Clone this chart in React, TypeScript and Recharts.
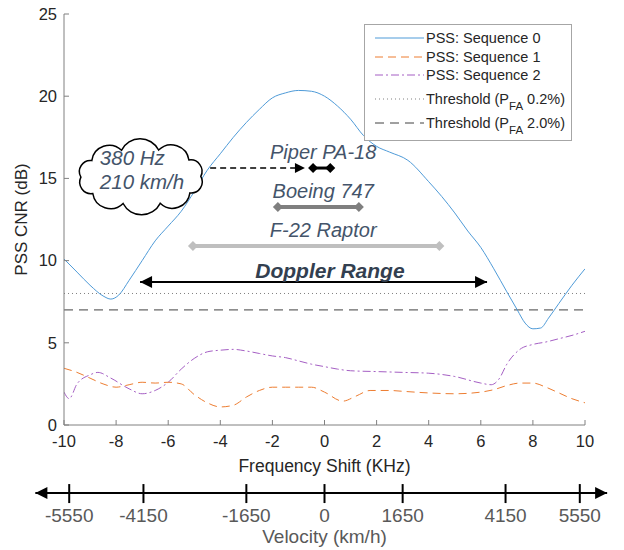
import React from 'react';
import { LineChart, Line, XAxis, YAxis, ReferenceLine, ReferenceDot } from 'recharts';

document.body.style.margin = '0';

// PSS CNR (dB) vs frequency shift (kHz)
const seq0Freq = [-10, -9.5, -9, -8.5, -8.2, -7.9, -7.5, -7, -6.5, -6, -5.5, -5, -4.5, -4, -3.5, -3, -2.5, -2, -1.5, -1, -0.5, 0, 0.5, 1, 1.5, 2, 2.5, 3.2, 4, 4.5, 5, 5.5, 6, 6.5, 7, 7.4, 7.7, 8, 8.3, 8.6, 9, 9.5, 10];
const seq0Cnr = [10.1, 9.3, 8.5, 7.85, 7.66, 7.9, 8.8, 10.0, 11.2, 12.1, 13.0, 14.2, 15.5, 16.5, 17.5, 18.4, 19.2, 19.9, 20.2, 20.35, 20.3, 20.0, 19.4, 18.6, 17.6, 16.95, 16.6, 16.1, 14.8, 13.9, 12.9, 11.8, 10.8, 9.5, 8.1, 7.0, 6.2, 5.85, 5.9, 6.5, 7.4, 8.5, 9.5];

const seq1Freq = [-10, -9.5, -9, -8.5, -8, -7.5, -7, -6.5, -6, -5.5, -5, -4.5, -4, -3.5, -3, -2.5, -2, -1.5, -1, -0.5, 0, 0.7, 1.2, 1.75, 2.5, 3, 4, 5, 6, 6.5, 7, 7.5, 8, 8.5, 9, 9.5, 10];
const seq1Cnr = [3.45, 3.2, 2.85, 2.5, 2.3, 2.45, 2.6, 2.55, 2.6, 2.5, 1.85, 1.35, 1.1, 1.2, 1.7, 2.1, 2.3, 2.3, 2.3, 2.3, 2.0, 1.45, 1.75, 2.1, 2.1, 2.05, 1.95, 1.9, 2.0, 2.15, 2.4, 2.55, 2.55, 2.3, 1.95, 1.6, 1.35];

const seq2Freq = [-10, -9.8, -9.5, -9, -8.7, -8.2, -7.5, -7, -6.5, -6, -5.5, -5, -4.5, -4, -3.5, -3, -2.5, -2, -1.5, -1, -0.5, 0, 0.5, 1, 2, 3, 4, 5, 6, 6.4, 6.7, 7, 7.5, 8, 8.5, 9, 9.5, 10];
const seq2Cnr = [2.0, 1.6, 2.5, 3.05, 3.2, 2.85, 2.2, 1.9, 2.1, 2.6, 3.4, 4.05, 4.45, 4.55, 4.6, 4.5, 4.35, 4.2, 4.1, 3.9, 3.7, 3.55, 3.4, 3.3, 3.25, 3.2, 3.15, 2.95, 2.55, 2.45, 2.8, 3.7, 4.6, 4.9, 5.05, 5.25, 5.45, 5.7];

const thresholdPfa02 = 8.0;
const thresholdPfa20 = 7.0;

const freqTicks = [-10, -8, -6, -4, -2, 0, 2, 4, 6, 8, 10];
const cnrTicks = [0, 5, 10, 15, 20, 25];

// velocity scale drawn under the frequency axis
const velLabels = ['-5550', '-4150', '-1650', '0', '1650', '4150', '5550'];
const velTickFreq = [-9.8, -6.95, -3.0, 0, 3.0, 6.95, 9.8];
const velArrowFreq = [-11.1, 10.85];
const velArrowCnr = -4.14;

// aircraft doppler spans
const aircraftNames = ['Piper PA-18', 'Boeing 747', 'F-22 Raptor'];
const aircraftFrom = [-0.44, -1.79, -5.05];
const aircraftTo = [0.22, 1.32, 4.41];
const aircraftCnr = [15.63, 13.26, 10.89];
const aircraftColors = ['#000000', '#7f7f7f', '#bfbfbf'];
const aircraftWidths = [3, 4, 4];
const aircraftLabelFreq = -0.05;

const dopplerRange = [-7.08, 6.24];
const dopplerCnr = 8.7;
const dopplerLabelFreq = 0.21;

const cloudFreq = -7.05;
const cloudCnr = 15.1;
const cloudLines = ['380 Hz', '210 km/h'];
const calloutFrom = -4.39;
const calloutTo = -0.75;

const toPoints = (xs: number[], ys: number[]) => xs.map((f, i) => ({ f, v: ys[i] }));
const seq0 = toPoints(seq0Freq, seq0Cnr);
const seq1 = toPoints(seq1Freq, seq1Cnr);
const seq2 = toPoints(seq2Freq, seq2Cnr);

const FONT = '"Liberation Sans", Arial, Helvetica, sans-serif';
const INK = '#262626';
const FRAME = '#808080';
const NOTE = '#44546A';
const BLUE = '#4F9BD8';
const ORANGE = '#ED7D31';
const PURPLE = '#A55FC4';

const diamond = (s: number, color: string) => (p: any) => (
  <polygon points={`${p.cx},${p.cy - s} ${p.cx + s},${p.cy} ${p.cx},${p.cy + s} ${p.cx - s},${p.cy}`} fill={color} />
);

const arrowHead = (dir: number, len: number, half: number) => (p: any) => (
  <polygon points={`${p.cx},${p.cy} ${p.cx - dir * len},${p.cy - half} ${p.cx - dir * len},${p.cy + half}`} fill="#000" />
);

const noteText = (text: string, dy: number, bold = false, color = NOTE, size = 20) => (p: any) => (
  <text x={p.cx} y={p.cy + dy} textAnchor="middle" fontFamily={FONT} fontSize={size} fontStyle="italic"
    fontWeight={bold ? 700 : 400} fill={color}>
    {text}
  </text>
);

function cloudPath(cx: number, cy: number, rx: number, ry: number, n: number) {
  let d = '';
  let px = 0, py = 0;
  for (let i = 0; i <= n; i++) {
    const a = -Math.PI / 2 + 0.3 + (2 * Math.PI * i) / n;
    const x = cx + rx * Math.cos(a);
    const y = cy + ry * Math.sin(a);
    if (i === 0) d += `M${x.toFixed(1)},${y.toFixed(1)}`;
    else {
      const r = Math.hypot(x - px, y - py) * 0.56;
      d += ` A${r.toFixed(1)},${r.toFixed(1)} 0 0 1 ${x.toFixed(1)},${y.toFixed(1)}`;
    }
    px = x; py = y;
  }
  return d + ' Z';
}

const cloudShape = (p: any) => (
  <g>
    <path d={cloudPath(p.cx, p.cy, 60, 28, 10)} fill="#fff" stroke="#000" strokeWidth={1.5} />
    {cloudLines.map((t, i) => (
      <text key={t} x={p.cx - 41} y={p.cy - 12 + i * 24} fontFamily={FONT} fontSize={20.5} fontStyle="italic" fill={NOTE}>
        {t}
      </text>
    ))}
  </g>
);

const velTick = (label: string) => (p: any) => (
  <g>
    <line x1={p.cx} x2={p.cx} y1={p.cy - 9} y2={p.cy + 10} stroke="#000" strokeWidth={2} />
    <text x={p.cx} y={p.cy + 29} textAnchor="middle" fontFamily={FONT} fontSize={19} fill="#595959">
      {label}
    </text>
  </g>
);

const velTitle = (p: any) => (
  <text x={p.cx} y={p.cy + 50} textAnchor="middle" fontFamily={FONT} fontSize={19} fill="#595959">
    Velocity (km/h)
  </text>
);

const legendRows = [
  { label: 'PSS: Sequence 0', color: BLUE, dash: undefined, top: 13 },
  { label: 'PSS: Sequence 1', color: ORANGE, dash: '8 5', top: 32 },
  { label: 'PSS: Sequence 2', color: PURPLE, dash: '8 3 2 3', top: 50 },
  { label: 'Threshold (P', sub: 'FA', rest: ' 0.2%)', color: '#808080', dash: '1 3', top: 74 },
  { label: 'Threshold (P', sub: 'FA', rest: ' 2.0%)', color: '#404040', dash: '9 6', top: 98 },
];

function ChartLegend() {
  return (
    <div style={{ position: 'absolute', left: 364, top: 24, width: 208, height: 117, border: '1px solid #a6a6a6',
      background: '#fff', boxSizing: 'border-box', fontFamily: FONT, fontSize: 14.5, color: INK }}>
      {legendRows.map((r) => (
        <div key={r.label + (r.rest ?? '')} style={{ position: 'absolute', left: 10, top: r.top - 9, height: 18, display: 'flex', alignItems: 'center', whiteSpace: 'nowrap' }}>
          <svg width={49} height={18}>
            <line x1={0} x2={49} y1={9} y2={9} stroke={r.color} strokeWidth={1} strokeDasharray={r.dash} />
          </svg>
          <span style={{ marginLeft: 2 }}>
            {r.label}
            {r.sub && <span style={{ fontSize: 11.5, position: 'relative', top: 6 }}>{r.sub}</span>}
            {r.rest}
          </span>
        </div>
      ))}
    </div>
  );
}

export default function App() {
  const axisTick = { fill: INK, fontSize: 16.5, fontFamily: FONT };
  return (
    <div style={{ position: 'relative', width: 624, height: 550, background: '#fff' }}>
      <LineChart width={624} height={550} margin={{ top: 14, right: 39, bottom: 0, left: 0 }}>
        <XAxis xAxisId="main" type="number" dataKey="f" domain={[-10, 10]} ticks={freqTicks} allowDataOverflow
          height={125} tickSize={-5} tickMargin={15} tick={axisTick} stroke={FRAME}
          label={{ content: (p: any) => (
            <text x={p.viewBox.x + p.viewBox.width / 2} y={p.viewBox.y + 47} textAnchor="middle" fontFamily={FONT} fontSize={17.5} fill={INK}>
              Frequency Shift (KHz)
            </text>
          ) }} />
        <XAxis xAxisId="top" orientation="top" type="number" dataKey="f" domain={[-10, 10]} ticks={freqTicks} height={0}
          allowDataOverflow tickSize={-5} tickFormatter={() => ''} stroke={FRAME} />
        <YAxis yAxisId="left" type="number" domain={[0, 25]} ticks={cnrTicks} allowDataOverflow width={64}
          tickSize={-5} tickMargin={12} tick={axisTick} stroke={FRAME}
          label={{ content: (p: any) => (
            <text transform={`translate(27,${p.viewBox.y + p.viewBox.height / 2}) rotate(-90)`} textAnchor="middle"
              fontFamily={FONT} fontSize={17} fill={INK}>
              PSS CNR (dB)
            </text>
          ) }} />
        <YAxis yAxisId="right" orientation="right" type="number" domain={[0, 25]} ticks={cnrTicks} width={0}
          allowDataOverflow tickSize={-5} tickFormatter={() => ''} stroke={FRAME} />

        <ReferenceLine xAxisId="main" yAxisId="left" y={thresholdPfa02} stroke="#808080" strokeDasharray="1 3" />
        <ReferenceLine xAxisId="main" yAxisId="left" y={thresholdPfa20} stroke="#404040" strokeDasharray="9 6" />

        {/* invisible copy so the mirrored frame axes get ticks */}
        <Line xAxisId="top" yAxisId="right" data={seq0} dataKey="v" stroke="none" strokeOpacity={0} dot={false}
          activeDot={false} isAnimationActive={false} />

        <Line xAxisId="main" yAxisId="left" data={seq2} dataKey="v" type="monotone" stroke={PURPLE} strokeWidth={1}
          strokeDasharray="8 3 2 3" dot={false} isAnimationActive={false} />
        <Line xAxisId="main" yAxisId="left" data={seq1} dataKey="v" type="monotone" stroke={ORANGE} strokeWidth={1}
          strokeDasharray="8 5" dot={false} isAnimationActive={false} />
        <Line xAxisId="main" yAxisId="left" data={seq0} dataKey="v" type="monotone" stroke={BLUE} strokeWidth={1}
          dot={false} isAnimationActive={false} />

        {/* aircraft spans */}
        {aircraftNames.map((name, i) => (
          <ReferenceLine key={name} xAxisId="main" yAxisId="left" ifOverflow="visible" stroke={aircraftColors[i]}
            strokeWidth={aircraftWidths[i]}
            segment={[{ x: aircraftFrom[i], y: aircraftCnr[i] }, { x: aircraftTo[i], y: aircraftCnr[i] }]} />
        ))}
        {aircraftNames.map((name, i) => [
          <ReferenceDot key={name + 'a'} xAxisId="main" yAxisId="left" x={aircraftFrom[i]} y={aircraftCnr[i]} ifOverflow="visible"
            shape={diamond(5, aircraftColors[i])} />,
          <ReferenceDot key={name + 'b'} xAxisId="main" yAxisId="left" x={aircraftTo[i]} y={aircraftCnr[i]} ifOverflow="visible"
            shape={diamond(5, aircraftColors[i])} />,
          <ReferenceDot key={name + 'c'} xAxisId="main" yAxisId="left" x={aircraftLabelFreq} y={aircraftCnr[i]} ifOverflow="visible"
            shape={noteText(name, -9)} />,
        ])}

        {/* doppler range */}
        <ReferenceLine xAxisId="main" yAxisId="left" ifOverflow="visible" stroke="#000" strokeWidth={2}
          segment={[{ x: dopplerRange[0], y: dopplerCnr }, { x: dopplerRange[1], y: dopplerCnr }]} />
        <ReferenceDot xAxisId="main" yAxisId="left" x={dopplerRange[0]} y={dopplerCnr} ifOverflow="visible" shape={arrowHead(-1, 12, 6)} />
        <ReferenceDot xAxisId="main" yAxisId="left" x={dopplerRange[1]} y={dopplerCnr} ifOverflow="visible" shape={arrowHead(1, 12, 6)} />
        <ReferenceDot xAxisId="main" yAxisId="left" x={dopplerLabelFreq} y={dopplerCnr} ifOverflow="visible"
          shape={noteText('Doppler Range', -4, true, '#333F50', 21)} />

        {/* callout */}
        <ReferenceLine xAxisId="main" yAxisId="left" ifOverflow="visible" stroke="#000" strokeWidth={1.5} strokeDasharray="6 4"
          segment={[{ x: calloutFrom, y: aircraftCnr[0] }, { x: calloutTo - 0.3, y: aircraftCnr[0] }]} />
        <ReferenceDot xAxisId="main" yAxisId="left" x={calloutTo} y={aircraftCnr[0]} ifOverflow="visible" shape={arrowHead(1, 10, 5)} />
        <ReferenceDot xAxisId="main" yAxisId="left" x={cloudFreq} y={cloudCnr} ifOverflow="visible" shape={cloudShape} />

        {/* velocity axis */}
        <ReferenceLine xAxisId="main" yAxisId="left" ifOverflow="visible" stroke="#000" strokeWidth={2}
          segment={[{ x: velArrowFreq[0], y: velArrowCnr }, { x: velArrowFreq[1], y: velArrowCnr }]} />
        <ReferenceDot xAxisId="main" yAxisId="left" x={velArrowFreq[0]} y={velArrowCnr} ifOverflow="visible" shape={arrowHead(-1, 12, 6)} />
        <ReferenceDot xAxisId="main" yAxisId="left" x={velArrowFreq[1]} y={velArrowCnr} ifOverflow="visible" shape={arrowHead(1, 12, 6)} />
        {velLabels.map((label, i) => (
          <ReferenceDot key={label} xAxisId="main" yAxisId="left" x={velTickFreq[i]} y={velArrowCnr} ifOverflow="visible"
            shape={velTick(label)} />
        ))}
        <ReferenceDot xAxisId="main" yAxisId="left" x={0} y={velArrowCnr} ifOverflow="visible" shape={velTitle} />
      </LineChart>
      <ChartLegend />
    </div>
  );
}
